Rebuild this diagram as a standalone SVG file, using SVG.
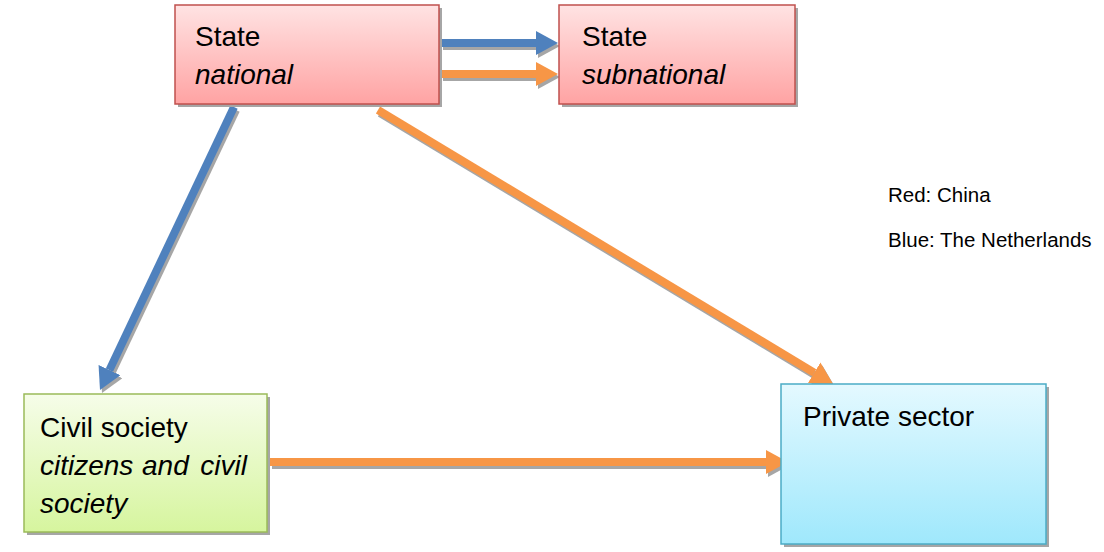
<svg xmlns="http://www.w3.org/2000/svg" width="1104" height="552" viewBox="0 0 1104 552">
<style>
.t{font-family:"Liberation Sans",Arial,sans-serif;font-size:28px;fill:#000}
.i{font-style:italic}
.lg{font-family:"Liberation Sans",Arial,sans-serif;font-size:20.5px;fill:#000}
.sh{fill:#a6a6a6}
.blue{stroke:#4f81bd;stroke-width:8;fill:none}
.orange{stroke:#f79646;stroke-width:8;fill:none}
.gray{stroke:#a6a6a6;stroke-width:8;fill:none}
</style>
<defs>
<linearGradient id="gr" x1="0" y1="0" x2="0" y2="1"><stop offset="0" stop-color="#ffe3e3"/><stop offset="1" stop-color="#ffa3a3"/></linearGradient>
<linearGradient id="gg" x1="0" y1="0" x2="0" y2="1"><stop offset="0" stop-color="#f6fde9"/><stop offset="1" stop-color="#d6f59e"/></linearGradient>
<linearGradient id="gb" x1="0" y1="0" x2="0" y2="1"><stop offset="0" stop-color="#e4f9ff"/><stop offset="1" stop-color="#9fe8fc"/></linearGradient>
<marker id="mb" markerUnits="userSpaceOnUse" viewBox="0 -12 22 24" markerWidth="22" markerHeight="24" refX="0" refY="0" orient="auto"><path d="M0,-12 L22,0 L0,12 z" fill="#4f81bd"/></marker>
<marker id="mo" markerUnits="userSpaceOnUse" viewBox="0 -12 22 24" markerWidth="22" markerHeight="24" refX="0" refY="0" orient="auto"><path d="M0,-12 L22,0 L0,12 z" fill="#f79646"/></marker>
<marker id="mg" markerUnits="userSpaceOnUse" viewBox="0 -12 22 24" markerWidth="22" markerHeight="24" refX="0" refY="0" orient="auto"><path d="M0,-12 L22,0 L0,12 z" fill="#a6a6a6"/></marker>
</defs>
<g id="connectors">
<g transform="translate(2,3)">
<path class="gray" marker-end="url(#mg)" d="M441,43 L536,43"/>
<path class="gray" marker-end="url(#mg)" d="M441,74 L536,74"/>
<path class="gray" marker-end="url(#mg)" d="M234,107 L109.4,370.1"/>
<path class="gray" marker-end="url(#mg)" d="M378,110 L814.2,372.7"/>
<path class="gray" marker-end="url(#mg)" d="M270,462 L766,462"/>
</g>
<path class="blue" marker-end="url(#mb)" d="M441,43 L536,43"/>
<path class="orange" marker-end="url(#mo)" d="M441,74 L536,74"/>
<path class="blue" marker-end="url(#mb)" d="M234,107 L109.4,370.1"/>
<path class="orange" marker-end="url(#mo)" d="M378,110 L814.2,372.7"/>
<path class="orange" marker-end="url(#mo)" d="M270,462 L766,462"/>
</g>
<g id="state-national">
<rect class="sh" x="178" y="8" width="264" height="99"/>
<rect x="175" y="5" width="264" height="99" fill="url(#gr)" stroke="#c0504d" stroke-width="1.5"/>
<text class="t" x="195" y="46">State</text>
<text class="t i" x="195" y="84">national</text>
</g>
<g id="state-subnational">
<rect class="sh" x="562" y="8" width="236" height="99"/>
<rect x="559" y="5" width="236" height="99" fill="url(#gr)" stroke="#c0504d" stroke-width="1.5"/>
<text class="t" x="582" y="46">State</text>
<text class="t i" x="582" y="84">subnational</text>
</g>
<g id="civil-society">
<rect class="sh" x="27" y="397" width="243" height="138"/>
<rect x="24" y="394" width="243" height="138" fill="url(#gg)" stroke="#9bbb59" stroke-width="1.5"/>
<text class="t" x="40" y="437">Civil society</text>
<text class="t i" x="40" y="475">citizens</text>
<text class="t i" x="142" y="475">and</text>
<text class="t i" x="247" y="475" text-anchor="end">civil</text>
<text class="t i" x="40" y="513">society</text>
</g>
<g id="private-sector">
<rect class="sh" x="784" y="387" width="265" height="160"/>
<rect x="781" y="384" width="265" height="160" fill="url(#gb)" stroke="#4bacc6" stroke-width="1.5"/>
<text class="t" x="803" y="426">Private sector</text>
</g>
<g id="legend">
<text class="lg" x="888" y="202">Red: China</text>
<text class="lg" x="888" y="247">Blue: The Netherlands</text>
</g>
</svg>
